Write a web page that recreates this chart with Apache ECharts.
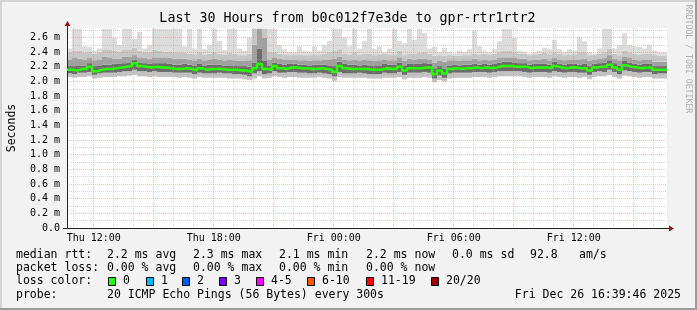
<!DOCTYPE html>
<html><head><meta charset="utf-8">
<script src="https://cdn.jsdelivr.net/npm/echarts@6/dist/echarts.min.js"></script>
<style>html,body{margin:0;padding:0;background:#f2f2f2;overflow:hidden}#c{width:697px;height:310px}</style>
</head><body><div id="c"></div>
<script>
// ---------------- data ----------------
const titleText = 'Last 30 Hours from b0c012f7e3de to gpr-rtr1rtr2';
const startHour = 10 + 39 / 60 + 46 / 3600;   // Thu 10:39:46, hours since Thu 00:00
const endHour = startHour + 30;               // Fri 16:39:46
const binHours = 0.25;                        // 15-minute bins
const xLabelHours = [12, 18, 24, 30, 36];
const xLabelTexts = ['Thu 12:00', 'Thu 18:00', 'Fri 00:00', 'Fri 06:00', 'Fri 12:00'];
const yMax = 2.73;                            // ms

// median rtt (ms)
const median = [
 2.16,2.15,2.17,2.17,2.20,2.14,2.16,2.17,2.17,2.18,
 2.19,2.20,2.21,2.25,2.21,2.20,2.19,2.20,2.19,2.19,
 2.18,2.17,2.17,2.18,2.17,2.15,2.18,2.16,2.17,2.17,
 2.17,2.16,2.16,2.16,2.15,2.15,2.13,2.18,2.24,2.17,
 2.16,2.21,2.18,2.17,2.19,2.19,2.18,2.18,2.17,2.17,
 2.18,2.17,2.16,2.13,2.21,2.18,2.17,2.17,2.17,2.17,
 2.16,2.16,2.16,2.18,2.17,2.17,2.20,2.15,2.18,2.18,
 2.18,2.19,2.19,2.10,2.15,2.11,2.17,2.18,2.17,2.18,
 2.18,2.19,2.18,2.19,2.18,2.19,2.21,2.21,2.21,2.20,
 2.20,2.20,2.18,2.19,2.19,2.19,2.18,2.21,2.19,2.18,
 2.19,2.19,2.18,2.18,2.15,2.19,2.20,2.20,2.23,2.19,
 2.16,2.22,2.20,2.19,2.18,2.19,2.19,2.16,2.16,2.16];
// smoke: lowest ping
const smokeMin = [
 2.06,2.05,2.06,2.06,2.07,2.04,2.05,2.06,2.06,2.06,
 2.07,2.07,2.08,2.09,2.07,2.07,2.06,2.07,2.06,2.06,
 2.06,2.06,2.05,2.06,2.05,2.04,2.06,2.05,2.05,2.05,
 2.05,2.05,2.04,2.04,2.04,2.03,2.02,2.04,2.07,2.04,
 2.05,2.07,2.06,2.05,2.06,2.06,2.05,2.05,2.05,2.05,
 2.06,2.05,2.04,2.01,2.06,2.05,2.05,2.05,2.05,2.05,
 2.04,2.04,2.04,2.05,2.05,2.05,2.06,2.03,2.05,2.05,
 2.05,2.06,2.05,1.99,2.02,2.00,2.04,2.05,2.05,2.05,
 2.05,2.06,2.06,2.06,2.05,2.06,2.07,2.07,2.07,2.07,
 2.07,2.06,2.05,2.06,2.06,2.06,2.05,2.07,2.06,2.05,
 2.06,2.06,2.05,2.06,2.03,2.06,2.07,2.07,2.09,2.06,
 2.04,2.08,2.07,2.06,2.05,2.06,2.06,2.04,2.04,2.04];
// smoke: lower edge of dark core
const smokeLo = [
 2.11,2.10,2.12,2.12,2.13,2.09,2.11,2.12,2.12,2.12,
 2.13,2.14,2.14,2.16,2.14,2.14,2.13,2.14,2.13,2.13,
 2.13,2.12,2.12,2.12,2.12,2.10,2.12,2.11,2.11,2.11,
 2.12,2.11,2.11,2.10,2.10,2.09,2.07,2.11,2.14,2.10,
 2.11,2.14,2.12,2.12,2.13,2.13,2.12,2.12,2.11,2.11,
 2.12,2.11,2.10,2.07,2.13,2.11,2.11,2.11,2.12,2.11,
 2.10,2.10,2.10,2.12,2.11,2.11,2.13,2.09,2.12,2.12,
 2.12,2.13,2.12,2.04,2.08,2.05,2.11,2.12,2.12,2.12,
 2.12,2.13,2.13,2.13,2.12,2.13,2.14,2.14,2.14,2.14,
 2.14,2.13,2.12,2.13,2.13,2.13,2.12,2.14,2.13,2.12,
 2.13,2.13,2.12,2.12,2.09,2.13,2.14,2.13,2.16,2.13,
 2.10,2.15,2.14,2.13,2.12,2.13,2.13,2.10,2.11,2.11];
// smoke: upper edge of dark core
const smokeHi = [
 2.21,2.21,2.22,2.22,2.25,2.21,2.22,2.23,2.23,2.24,
 2.24,2.25,2.26,2.30,2.26,2.25,2.24,2.25,2.25,2.25,
 2.24,2.23,2.23,2.24,2.23,2.22,2.24,2.22,2.23,2.23,
 2.23,2.22,2.22,2.22,2.21,2.21,2.20,2.26,2.45,2.28,
 2.22,2.26,2.24,2.23,2.24,2.24,2.23,2.23,2.22,2.23,
 2.23,2.23,2.22,2.21,2.27,2.24,2.23,2.23,2.22,2.23,
 2.22,2.22,2.22,2.24,2.23,2.23,2.26,2.22,2.24,2.24,
 2.24,2.25,2.24,2.18,2.21,2.18,2.22,2.23,2.22,2.23,
 2.23,2.24,2.23,2.24,2.23,2.24,2.26,2.27,2.27,2.26,
 2.25,2.25,2.23,2.24,2.24,2.24,2.23,2.27,2.24,2.23,
 2.24,2.24,2.23,2.24,2.21,2.24,2.25,2.26,2.29,2.25,
 2.22,2.28,2.26,2.24,2.23,2.24,2.24,2.21,2.21,2.21];
// smoke: top of medium band
const smokeP90 = [
 2.30,2.33,2.31,2.30,2.32,2.29,2.30,2.34,2.33,2.31,
 2.31,2.34,2.34,2.36,2.33,2.32,2.31,2.33,2.33,2.32,
 2.32,2.31,2.31,2.31,2.30,2.29,2.31,2.29,2.30,2.31,
 2.30,2.29,2.30,2.29,2.28,2.28,2.29,2.50,2.72,2.60,
 2.30,2.33,2.31,2.30,2.30,2.30,2.29,2.29,2.28,2.29,
 2.29,2.30,2.30,2.31,2.34,2.30,2.29,2.30,2.29,2.30,
 2.29,2.28,2.29,2.30,2.29,2.29,2.33,2.28,2.31,2.30,
 2.31,2.31,2.30,2.26,2.28,2.27,2.29,2.29,2.28,2.29,
 2.29,2.31,2.29,2.30,2.29,2.30,2.32,2.33,2.33,2.32,
 2.31,2.31,2.29,2.30,2.30,2.31,2.29,2.32,2.30,2.29,
 2.30,2.30,2.30,2.31,2.28,2.30,2.31,2.32,2.36,2.31,
 2.29,2.34,2.32,2.30,2.29,2.30,2.30,2.27,2.27,2.27];
// smoke: top of light band
const smokeP95 = [
 2.40,2.42,2.42,2.40,2.41,2.38,2.40,2.44,2.43,2.42,
 2.41,2.43,2.44,2.46,2.42,2.40,2.40,2.43,2.42,2.41,
 2.41,2.40,2.40,2.39,2.38,2.37,2.40,2.37,2.38,2.40,
 2.38,2.37,2.39,2.38,2.36,2.36,2.38,2.72,2.72,2.72,
 2.40,2.40,2.38,2.37,2.36,2.36,2.37,2.36,2.36,2.37,
 2.36,2.38,2.40,2.42,2.44,2.38,2.37,2.40,2.37,2.38,
 2.38,2.36,2.37,2.38,2.37,2.37,2.42,2.36,2.38,2.38,
 2.39,2.40,2.38,2.35,2.36,2.35,2.36,2.35,2.35,2.36,
 2.36,2.38,2.37,2.38,2.37,2.38,2.40,2.42,2.42,2.40,
 2.38,2.38,2.36,2.37,2.38,2.39,2.37,2.40,2.38,2.36,
 2.37,2.37,2.40,2.40,2.36,2.36,2.38,2.40,2.45,2.38,
 2.36,2.42,2.40,2.38,2.37,2.38,2.38,2.36,2.35,2.35];
// smoke: highest ping
const smokeMax = [
 2.45,2.72,2.72,2.48,2.47,2.42,2.45,2.72,2.72,2.60,
 2.50,2.72,2.72,2.58,2.68,2.45,2.50,2.72,2.72,2.72,
 2.72,2.72,2.72,2.48,2.72,2.45,2.72,2.44,2.50,2.72,
 2.55,2.43,2.72,2.72,2.45,2.42,2.60,2.72,2.72,2.72,
 2.72,2.72,2.50,2.44,2.40,2.40,2.48,2.42,2.40,2.48,
 2.42,2.50,2.55,2.72,2.72,2.60,2.48,2.72,2.45,2.55,
 2.72,2.44,2.48,2.40,2.45,2.72,2.55,2.52,2.72,2.57,
 2.72,2.66,2.45,2.47,2.40,2.46,2.40,2.38,2.42,2.40,
 2.44,2.70,2.48,2.42,2.40,2.44,2.55,2.72,2.72,2.60,
 2.42,2.40,2.38,2.40,2.42,2.46,2.44,2.57,2.44,2.40,
 2.44,2.42,2.61,2.55,2.40,2.38,2.45,2.72,2.72,2.45,
 2.50,2.66,2.50,2.48,2.47,2.45,2.50,2.42,2.40,2.40];

const legendRows = [
  ['median rtt:', '2.2 ms avg', '2.3 ms max', '2.1 ms min', '2.2 ms now', '0.0 ms sd', '92.8', 'am/s'],
  ['packet loss:', '0.00 % avg', '0.00 % max', '0.00 % min', '0.00 % now']
];
const lossLabels = ['0', '1', '2', '3', '4-5', '6-10', '11-19', '20/20'];
const lossColors = ['#26ff00', '#00b8ff', '#0059ff', '#7e00ff', '#ff00ff', '#ff5500', '#ff0000', '#a10000'];
const probeText = '20 ICMP Echo Pings (56 Bytes) every 300s';
const stampText = 'Fri Dec 26 16:39:46 2025';

// ---------------- chart ----------------
const MONO = '"DejaVu Sans Mono", monospace';
const RED = 'rgba(240,110,110,0.42)';
const GREY = 'rgba(175,175,175,0.5)';
const smokeColors = ['#c3c3c3', '#6c6c6c', '#a0a0a0', '#c6c6c6', '#dcdcdc'];

const times = median.map((_, i) => startHour + i * binHours);
const smokeData = times.map((t, i) => [t, smokeMin[i], smokeLo[i], smokeHi[i], smokeP90[i], smokeP95[i], smokeMax[i]]);
const medianData = times.map((t, i) => [t, median[i]]).concat([[endHour, median[median.length - 1]]]);
const hourTicks = [];
for (let h = Math.ceil(startHour); h <= Math.floor(endHour); h++) hourTicks.push(h);

const chart = echarts.init(document.getElementById('c'), null, {renderer: 'canvas'});
chart.setOption({
  animation: false,
  backgroundColor: '#f2f2f2',
  grid: {left: 67, right: 30, top: 28, bottom: 82, show: true, backgroundColor: '#ffffff', borderWidth: 0,
    containLabel: false, outerBoundsMode: 'none'},
  xAxis: {
    type: 'value', min: startHour, max: endHour, z: 3,
    axisLine: {show: true, onZero: false, lineStyle: {color: '#222', width: 1}},
    axisTick: {show: false, customValues: hourTicks},
    axisLabel: {customValues: xLabelHours, margin: 5, fontFamily: MONO, fontSize: 10, color: '#000',
      formatter: v => { const k = xLabelHours.indexOf(Math.round(v)); return k >= 0 ? xLabelTexts[k] : ''; }},
    splitLine: {show: true, showMinLine: true, showMaxLine: true, lineStyle: {color: [GREY, RED, GREY], width: 1, type: [1, 1]}}
  },
  yAxis: {
    type: 'value', min: 0, max: yMax, interval: 0.1, z: 3,
    name: 'Seconds', nameLocation: 'middle', nameGap: 49, nameRotate: 90,
    nameTextStyle: {fontFamily: MONO, fontSize: 11.5, color: '#000'},
    axisLine: {show: true, lineStyle: {color: '#222', width: 1}},
    axisTick: {show: false},
    axisLabel: {margin: 7, fontFamily: MONO, fontSize: 10, color: '#000', showMaxLabel: false,
      formatter: v => { const k = Math.round(v * 10); if (k % 2 || k > 26) return ''; return k === 0 ? '0.0' : (k / 10).toFixed(1) + ' m'; }},
    splitLine: {show: true, showMaxLine: false, lineStyle: {color: [RED, GREY], width: 1, type: [1, 1]}}
  },
  series: [
    {
      type: 'custom', z: 1, clip: true, silent: true,
      encode: {x: 0, y: [1, 2, 3, 4, 5, 6]},
      data: smokeData,
      renderItem: (params, api) => {
        const t = api.value(0);
        const xa = api.coord([t, 0])[0];
        const xb = api.coord([t + binHours, 0])[0];
        const kids = [];
        for (let k = 0; k < 5; k++) {
          const yb = api.coord([t, api.value(k + 1)])[1];
          const yt = api.coord([t, api.value(k + 2)])[1];
          kids.push({type: 'rect', shape: {x: xa, y: yt, width: xb - xa, height: Math.max(0, yb - yt)},
            style: {fill: smokeColors[k]}});
        }
        return {type: 'group', children: kids};
      }
    },
    {
      type: 'line', z: 5, data: medianData, step: 'end', showSymbol: false, silent: true,
      lineStyle: {color: lossColors[0], width: 2.5}
    }
  ]
});

// ---------- decorations (texts, frame, arrows) ----------
const origin = chart.convertToPixel({gridIndex: 0}, [startHour, 0]);
const topPt = chart.convertToPixel({gridIndex: 0}, [startHour, yMax]);
const endPt = chart.convertToPixel({gridIndex: 0}, [endHour, 0]);
const AR = '#9a1010';
const g = [];
// frame shading
g.push({type: 'rect', shape: {x: 0, y: 0, width: 697, height: 2}, style: {fill: '#d4d4d4'}, z: 0});
g.push({type: 'rect', shape: {x: 0, y: 0, width: 2, height: 310}, style: {fill: '#d4d4d4'}, z: 0});
g.push({type: 'rect', shape: {x: 0, y: 308, width: 697, height: 2}, style: {fill: '#9c9c9c'}, z: 0});
g.push({type: 'rect', shape: {x: 695, y: 0, width: 2, height: 310}, style: {fill: '#9c9c9c'}, z: 0});
// axis extensions and arrows
g.push({type: 'line', shape: {x1: origin[0] + 0.5, y1: topPt[1], x2: origin[0] + 0.5, y2: topPt[1] - 3}, style: {stroke: '#222', lineWidth: 1}, z: 10});
g.push({type: 'polygon', shape: {points: [[origin[0] - 2.5, topPt[1] - 2], [origin[0] + 3.5, topPt[1] - 2], [origin[0] + 0.5, topPt[1] - 7]]}, style: {fill: AR}, z: 10});
g.push({type: 'line', shape: {x1: origin[0] - 4, y1: origin[1] + 0.5, x2: origin[0], y2: origin[1] + 0.5}, style: {stroke: '#222', lineWidth: 1}, z: 10});
g.push({type: 'line', shape: {x1: endPt[0], y1: endPt[1] + 0.5, x2: endPt[0] + 3, y2: endPt[1] + 0.5}, style: {stroke: '#222', lineWidth: 1}, z: 10});
g.push({type: 'polygon', shape: {points: [[endPt[0] + 2, endPt[1] - 2.5], [endPt[0] + 2, endPt[1] + 3.5], [endPt[0] + 7, endPt[1] + 0.5]]}, style: {fill: AR}, z: 10});
// title
g.push({type: 'text', x: 347.5, y: 19, z: 10, style: {text: titleText, font: '13.3px ' + MONO, fill: '#000', align: 'center', verticalAlign: 'middle', textAlign: 'center', textVerticalAlign: 'middle'}});
// rrdtool credit
g.push({type: 'text', x: 688, y: 59, rotation: -Math.PI / 2, z: 10, style: {text: 'RRDTOOL / TOBI OETIKER', font: '8.2px ' + MONO, fill: '#b0b0b0', align: 'center', verticalAlign: 'middle', textAlign: 'center', textVerticalAlign: 'middle'}});
// legend rows
const colX = [16, 107, 193, 279, 366, 452, 530, 579];
const rowY = [255, 268.5, 281.5, 295];
const txt = (s, x, y, al) => ({type: 'text', x: x, y: y, z: 10, style: {text: s, font: '11.5px ' + MONO, fill: '#000', align: al || 'left', verticalAlign: 'middle', textAlign: al || 'left', textVerticalAlign: 'middle'}});
legendRows.forEach((row, r) => row.forEach((s, c) => g.push(txt(s, colX[c], rowY[r]))));
g.push(txt('loss color:', 16, rowY[2]));
const boxX = [108, 146, 182, 219, 256, 307, 366, 431];
lossLabels.forEach((s, i) => {
  g.push({type: 'rect', shape: {x: boxX[i] + 0.5, y: 277.5, width: 7, height: 8}, style: {fill: lossColors[i], stroke: '#000', lineWidth: 1}, z: 10});
  g.push(txt(s, boxX[i] + 15, rowY[2]));
});
g.push(txt('probe:', 16, rowY[3]));
g.push(txt(probeText, 107, rowY[3]));
g.push(txt(stampText, 681, rowY[3], 'right'));
chart.setOption({graphic: {elements: g}});
</script>
</body></html>
